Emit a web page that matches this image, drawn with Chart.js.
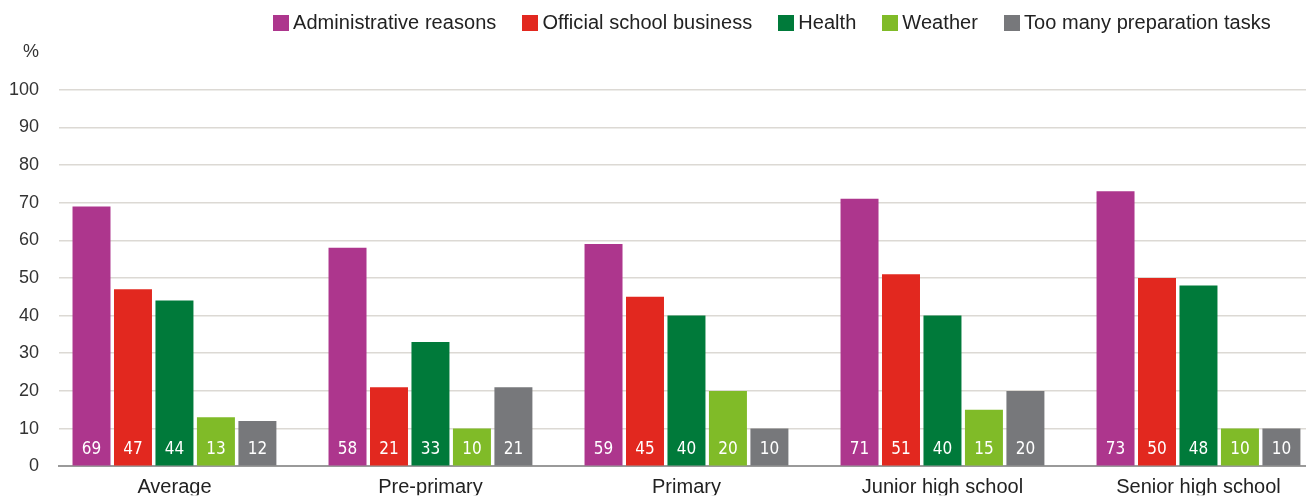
<!DOCTYPE html>
<html>
<head>
<meta charset="utf-8">
<script src="https://cdn.jsdelivr.net/npm/chart.js@4"></script>
<style>
  html, body { margin: 0; padding: 0; background: #fff; }
  #wrap { position: relative; width: 1306px; height: 497px; overflow: hidden; }
  #legend { position: absolute; left: 273px; top: 11px; display: flex; gap: 26px;
    font-family: "Liberation Sans", Arial, sans-serif; font-size: 20px; letter-spacing: 0.05px; color: #222; white-space: nowrap; }
  #legend .item { display: flex; align-items: center; }
  #legend .box { width: 16px; height: 16px; margin-right: 4px; }
</style>
</head>
<body>
<div id="wrap">
  <canvas id="chart" width="1306" height="497"></canvas>
  <div id="legend"></div>
</div>
<script>
// categories and series (percent)
const categories = ['Average', 'Pre-primary', 'Primary', 'Junior high school', 'Senior high school'];
const seriesNames = ['Administrative reasons', 'Official school business', 'Health', 'Weather', 'Too many preparation tasks'];
const seriesColors = ['#ad368d', '#e2281f', '#007a3a', '#80bb28', '#77787b'];
const adminReasons = [69, 58, 59, 71, 73];
const officialBusiness = [47, 21, 45, 51, 50];
const health = [44, 33, 40, 40, 48];
const weather = [13, 10, 20, 15, 10];
const preparationTasks = [12, 21, 10, 20, 10];
const yTicks = [0, 10, 20, 30, 40, 50, 60, 70, 80, 90, 100];

const seriesValues = [adminReasons, officialBusiness, health, weather, preparationTasks];

// html legend built from the series
const legendEl = document.getElementById('legend');
seriesNames.forEach((name, i) => {
  const it = document.createElement('div');
  it.className = 'item';
  const b = document.createElement('span');
  b.className = 'box';
  b.style.background = seriesColors[i];
  const t = document.createElement('span');
  t.textContent = name;
  it.appendChild(b); it.appendChild(t);
  legendEl.appendChild(it);
});

// value labels at the foot of each bar
const barLabels = {
  id: 'barLabels',
  afterDatasetsDraw(chart) {
    const ctx = chart.ctx;
    ctx.save();
    ctx.fillStyle = '#fff';
    ctx.font = '17px "Liberation Sans Narrow", "DejaVu Sans Condensed", sans-serif';
    ctx.textAlign = 'center';
    ctx.textBaseline = 'middle';
    chart.data.datasets.forEach((ds, di) => {
      chart.getDatasetMeta(di).data.forEach((bar, i) => {
        ctx.fillText(String(ds.data[i].y), bar.x, bar.base - 16);
      });
    });
    ctx.restore();
  }
};

const ctx = document.getElementById('chart').getContext('2d');
new Chart(ctx, {
  type: 'bar',
  data: {
    datasets: seriesNames.map((name, i) => ({
      label: name,
      data: seriesValues[i].map((v, k) => ({ x: k, y: v })),
      backgroundColor: seriesColors[i],
      borderWidth: 0,
      categoryPercentage: 0.81,
      barPercentage: 0.916
    }))
  },
  options: {
    responsive: false,
    animation: false,
    layout: { padding: { top: 52, right: 0, left: 0, bottom: 0 } },
    plugins: { legend: { display: false }, tooltip: { enabled: false } },
    scales: {
      x: {
        type: 'linear',
        offset: false,
        min: -0.451,
        max: 4.42,
        afterFit: s => { s.height = 29; },
        afterBuildTicks: s => { s.ticks = categories.map((c, i) => ({ value: i })); },
        grid: { display: false, drawTicks: false },
        border: { display: true, color: '#9a9a9a', width: 2 },
        ticks: {
          padding: 9,
          autoSkip: false,
          maxRotation: 0,
          color: '#222',
          font: { family: '"Liberation Sans", Arial, sans-serif', size: 20 },
          callback: v => categories[v]
        }
      },
      y: {
        min: 0,
        max: 110,
        afterFit: s => { s.width = 59; },
        afterBuildTicks: s => { s.ticks = yTicks.concat([110]).map(v => ({ value: v })); },
        grid: {
          color: ctx => ctx.tick && ctx.tick.value === 110 ? 'rgba(0,0,0,0)' : '#dcd9d4',
          lineWidth: 1.5,
          drawTicks: false
        },
        border: { display: false },
        ticks: {
          padding: 20,
          color: '#333',
          font: { family: '"Liberation Sans", Arial, sans-serif', size: 18 },
          callback: v => v === 110 ? '%' : String(v)
        }
      }
    }
  },
  plugins: [barLabels]
});
</script>
</body>
</html>
